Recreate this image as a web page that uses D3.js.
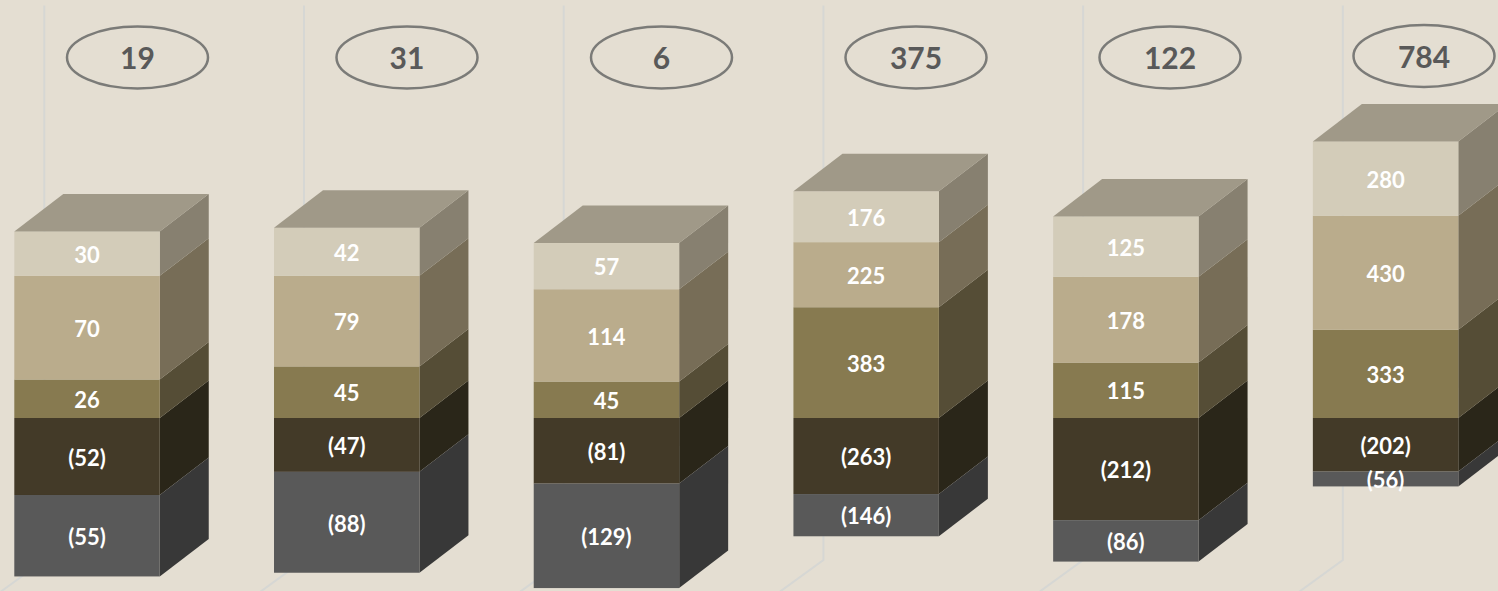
<!DOCTYPE html>
<html>
<head>
<meta charset="utf-8">
<script src="https://cdn.jsdelivr.net/npm/d3@7"></script>
<style>
    html, body { margin: 0; padding: 0; background: #e4ded2; overflow: hidden; }
    svg { display: block; }
    text { font-family: "Lato", "Open Sans", sans-serif; font-weight: 700; text-anchor: middle; }
</style>
</head>
<body>
<script>
// each column is a 100% stack, so every value only counts as a share of its own column
var totals = [19, 31, 6, 375, 122, 784];
var seriesTop = [30, 42, 57, 176, 125, 280];
var seriesUpper = [70, 79, 114, 225, 178, 430];
var seriesLower = [26, 45, 45, 383, 115, 333];
var seriesCost = [-52, -47, -81, -263, -212, -202];
var seriesOther = [-55, -88, -129, -146, -86, -56];

// diverging stack order: first key sits next to the zero line
var seriesNames = ["cost", "other", "lower", "upper", "top"];
var seriesValues = {
    other: seriesOther,
    cost: seriesCost,
    lower: seriesLower,
    upper: seriesUpper,
    top: seriesTop
};

var frontColor = { top: "#d3ccb9", upper: "#baac8c", lower: "#877a50", cost: "#433a28", other: "#595959" };
var sideColor = { top: "#878070", upper: "#776d57", lower: "#554d36", cost: "#2a2619", other: "#383838" };
var roofColor = "#a09988";

var width = 1498,
    height = 591;
var depthX = 49,
    depthY = 37.5;

var svg = d3.select("body").append("svg").attr("width", width).attr("height", height);

var columns = totals.map((d, i) => i);

var x = d3.scaleBand().domain(columns).range([14.3, 1458.3]).paddingInner(0.44).paddingOuter(0);

// share of a column's absolute total -> pixels, zero line is shared
var y = d3.scaleLinear().domain([0, 1]).range([418, 73]);

// the ovals are not evenly spaced in the picture
var ovalX = d3.scaleOrdinal().domain(columns).range([137.5, 407, 661.5, 916, 1170, 1424]);
var ovalY = d3.scaleOrdinal().domain(columns).range([57.5, 57.5, 57.5, 57.5, 57.5, 56]);

var rows = columns.map(function (i) {
    var row = { column: i };
    var sum = d3.sum(seriesNames, (s) => Math.abs(seriesValues[s][i]));
    seriesNames.forEach((s) => row[s] = seriesValues[s][i] / sum);
    return row;
});

var stacked = d3.stack()
    .keys(seriesNames)
    .offset(d3.stackOffsetDiverging)(rows);

//back wall lines
var walls = svg.append("g").selectAll("path")
    .data(columns)
    .enter().append("path")
    .attr("fill", "none")
    .attr("stroke", "#d6d7d4")
    .attr("stroke-width", 2)
    .attr("d", function (i) {
        var wx = x(i) + depthX - 19;
        return "M" + wx + " 5.5V560L" + (wx - 44) + " 592";
    });

var block = svg.append("g").selectAll("g")
    .data(stacked)
    .enter().append("g")
    .attr("class", "layer");

//side faces first, then front faces on top
block.selectAll("path.side")
    .data((layer) => layer.map((d) => ({ key: layer.key, d: d })))
    .enter().append("path")
    .attr("class", "side")
    .attr("fill", (p) => sideColor[p.key])
    .attr("d", function (p) {
        var x1 = x(p.d.data.column) + x.bandwidth();
        var y0 = y(p.d[0]),
            y1 = y(p.d[1]);
        return "M" + x1 + " " + y0 + "L" + x1 + " " + y1 +
            "L" + (x1 + depthX) + " " + (y1 - depthY) +
            "L" + (x1 + depthX) + " " + (y0 - depthY) + "Z";
    });

block.selectAll("rect")
    .data((layer) => layer.map((d) => ({ key: layer.key, d: d })))
    .enter().append("rect")
    .attr("x", (p) => x(p.d.data.column))
    .attr("width", x.bandwidth())
    .attr("y", (p) => Math.min(y(p.d[0]), y(p.d[1])))
    .attr("height", (p) => Math.abs(y(p.d[0]) - y(p.d[1])))
    .attr("fill", (p) => frontColor[p.key]);

//roof sits on the top series
var topLayer = stacked[stacked.length - 1];
svg.append("g").selectAll("path")
    .data(topLayer)
    .enter().append("path")
    .attr("fill", roofColor)
    .attr("d", function (d) {
        var x0 = x(d.data.column),
            x1 = x0 + x.bandwidth(),
            yt = y(d[1]);
        return "M" + x0 + " " + yt + "L" + x1 + " " + yt +
            "L" + (x1 + depthX) + " " + (yt - depthY) +
            "L" + (x0 + depthX) + " " + (yt - depthY) + "Z";
    });

var labels = svg.append("g").selectAll("g")
    .data(stacked)
    .enter().append("g");

labels.selectAll("text")
    .data((layer) => layer.map((d) => ({ key: layer.key, d: d })))
    .enter().append("text")
    .attr("x", (p) => x(p.d.data.column) + x.bandwidth() / 2)
    .attr("y", (p) => (y(p.d[0]) + y(p.d[1])) / 2 + 1.5)
    .attr("dy", "0.35em")
    .attr("font-size", 22)
    .attr("fill", "#ffffff")
    .text(function (p) {
        var v = seriesValues[p.key][p.d.data.column];
        return v < 0 ? "(" + Math.abs(v) + ")" : v;
    });

//totals in ovals
var ovals = svg.append("g").selectAll("g")
    .data(columns)
    .enter().append("g")
    .attr("transform", (i) => "translate(" + ovalX(i) + "," + ovalY(i) + ")");

ovals.append("ellipse")
    .attr("rx", 70.5)
    .attr("ry", 31)
    .attr("fill", "none")
    .attr("stroke", "#7b7b78")
    .attr("stroke-width", 2.5);

ovals.append("text")
    .attr("y", 1)
    .attr("dy", "0.35em")
    .attr("font-size", 30)
    .attr("font-weight", 900)
    .attr("fill", "#595959")
    .text((i) => totals[i]);
</script>
</body>
</html>
